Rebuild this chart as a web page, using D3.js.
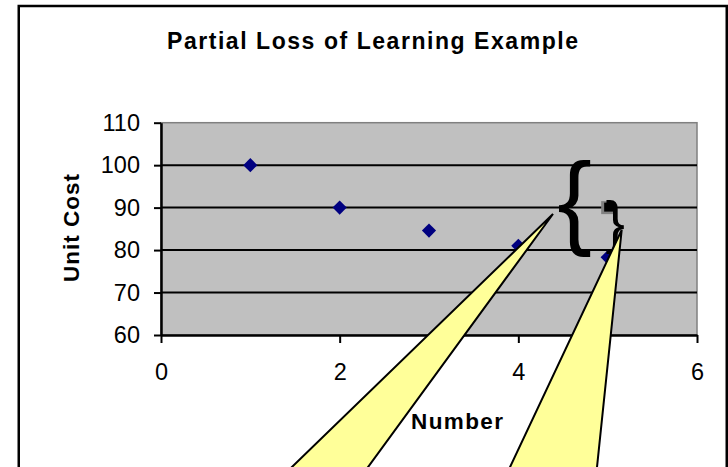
<!DOCTYPE html>
<html>
<head>
<meta charset="utf-8">
<script src="https://cdn.jsdelivr.net/npm/d3@7"></script>
<style>
  html, body { margin: 0; padding: 0; background: #fff; }
  svg { display: block; }
  text { font-family: "Liberation Sans", Arial, sans-serif; }
</style>
</head>
<body>
<svg id="chart" width="728" height="467"></svg>
<script>
// Learning curve: unit cost by unit number
const units = [1, 2, 3, 4, 5];
const unitCost = [100, 90, 84.6, 81, 78.3];

// Cost of unit 5 after part of the learning is lost
const lossUnits = [5];
const lossCost = [90];

const xTicks = [0, 2, 4, 6];
const yTicks = [60, 70, 80, 90, 100, 110];
const gridValues = [70, 80, 90, 100];

const titleText = "Partial Loss of Learning Example";
const xTitle = "Number";
const yTitle = "Unit Cost";

// Callout pointers (data units): tip, then the two base corners below the plot
const calloutA = [[4.388, 88.5], [1.20, 23.5], [2.13, 23.5]];
const calloutB = [[5.157, 84.73], [3.786, 23.5], [4.854, 23.5]];

// Brace annotations (data units for anchor)
const braces = [
  { glyph: "{", x: 4.63, y: 83.6, size: 104 },
  { glyph: "}", x: 5.085, y: 82.0, size: 58 }
];

const svg = d3.select("#chart");

const plot = { left: 161, right: 697, top: 122.7, bottom: 335 };

const x = d3.scaleLinear().domain([0, 6]).range([plot.left, plot.right]);
const y = d3.scaleLinear().domain([60, 110]).range([plot.bottom, plot.top]);

// Outer chart frame
svg.append("rect")
  .attr("x", 18.75).attr("y", 6)
  .attr("width", 708).attr("height", 520)
  .attr("fill", "#fff").attr("stroke", "#000").attr("stroke-width", 2.5);

// Title
svg.append("text")
  .attr("x", 372.5).attr("y", 48.5)
  .attr("text-anchor", "middle")
  .attr("font-size", 23).attr("font-weight", "bold")
  .attr("textLength", 411).attr("lengthAdjust", "spacing")
  .text(titleText);

// Plot area
svg.append("rect")
  .attr("x", plot.left).attr("y", plot.top)
  .attr("width", plot.right - plot.left).attr("height", plot.bottom - plot.top)
  .attr("fill", "#C0C0C0").attr("stroke", "#808080").attr("stroke-width", 1.5);

// Horizontal gridlines
svg.append("g").selectAll("line").data(gridValues).join("line")
  .attr("x1", plot.left).attr("x2", plot.right)
  .attr("y1", d => y(d)).attr("y2", d => y(d))
  .attr("stroke", "#000").attr("stroke-width", 2);

// Y axis
const yAxis = svg.append("g")
  .attr("transform", `translate(${plot.left},0)`)
  .call(d3.axisLeft(y).tickValues(yTicks).tickSize(7).tickSizeOuter(0).tickPadding(14).tickFormat(d3.format("d")));
yAxis.select(".domain").attr("stroke", "#000").attr("stroke-width", 2.5);
yAxis.selectAll(".tick line").attr("stroke", "#000").attr("stroke-width", 2);
yAxis.selectAll(".tick text")
  .attr("font-family", "'Liberation Sans', Arial, sans-serif")
  .attr("font-size", 23.5).attr("fill", "#000");

// X axis
const xAxis = svg.append("g")
  .attr("transform", `translate(0,${plot.bottom})`)
  .call(d3.axisBottom(x).tickValues(xTicks).tickSize(8).tickSizeOuter(0).tickPadding(20).tickFormat(d3.format("d")));
xAxis.select(".domain").attr("stroke", "#000").attr("stroke-width", 2.5);
xAxis.selectAll(".tick line").attr("stroke", "#000").attr("stroke-width", 2);
xAxis.selectAll(".tick text")
  .attr("font-family", "'Liberation Sans', Arial, sans-serif")
  .attr("font-size", 23.5).attr("fill", "#000");

// Axis titles
svg.append("text")
  .attr("x", 457).attr("y", 428.5)
  .attr("text-anchor", "middle")
  .attr("font-size", 22.5).attr("font-weight", "bold")
  .attr("textLength", 92).attr("lengthAdjust", "spacing")
  .text(xTitle);

svg.append("text")
  .attr("transform", "translate(78.5,228) rotate(-90)")
  .attr("text-anchor", "middle")
  .attr("font-size", 22.5).attr("font-weight", "bold")
  .attr("textLength", 108).attr("lengthAdjust", "spacing")
  .text(yTitle);

// Learning curve points (diamonds)
const diamond = d3.symbol().type(d3.symbolDiamond2).size(128);
svg.append("g").selectAll("path")
  .data(units.map((u, i) => [u, unitCost[i]]))
  .join("path")
  .attr("d", diamond)
  .attr("transform", d => `translate(${x(d[0])},${y(d[1])})`)
  .attr("fill", "#000080");

// Lost-learning point (square)
const lossG = svg.append("g").selectAll("g")
  .data(lossUnits.map((u, i) => [u, lossCost[i]]))
  .join("g")
  .attr("transform", d => `translate(${x(d[0])},${y(d[1])})`);
lossG.append("rect")
  .attr("x", -6.5).attr("y", -6.5).attr("width", 13).attr("height", 13)
  .attr("fill", "#808080");
lossG.append("rect")
  .attr("x", -3.5).attr("y", -5).attr("width", 9).attr("height", 9)
  .attr("fill", "#000");

// Braces
svg.append("g").selectAll("text").data(braces).join("text")
  .attr("x", d => x(d.x)).attr("y", d => y(d.y))
  .attr("text-anchor", "middle")
  .attr("font-family", "'Liberation Serif', 'Times New Roman', serif")
  .attr("font-size", d => d.size)
  .attr("fill", "#000")
  .text(d => d.glyph);

// Callout pointers
const line = d3.line().x(d => x(d[0])).y(d => y(d[1]));
svg.append("g").selectAll("path").data([calloutA, calloutB]).join("path")
  .attr("d", d => line(d) + "Z")
  .attr("fill", "#FFFF99")
  .attr("stroke", "#000").attr("stroke-width", 2)
  .attr("stroke-linejoin", "miter");
</script>
</body>
</html>
